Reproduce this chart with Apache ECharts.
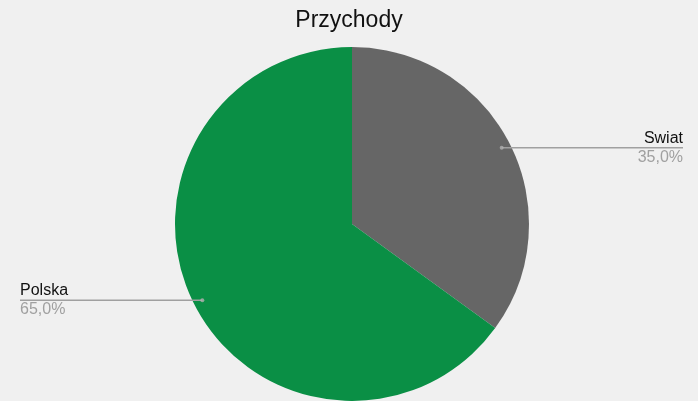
<!DOCTYPE html>
<html>
<head>
<meta charset="utf-8">
<script src="https://cdn.jsdelivr.net/npm/echarts@6/dist/echarts.min.js"></script>
<style>
html,body{margin:0;padding:0;background:#f0f0f0;}
#chart{width:698px;height:401px;}
</style>
</head>
<body>
<div id="chart"></div>
<script>
const titleText = 'Przychody';
const categories = ['Swiat', 'Polska'];
const values = [35, 65];
const colors = ['#666666', '#0a8f45'];

const chart = echarts.init(document.getElementById('chart'));
const data = categories.map((c, i) => ({ name: c, value: values[i], itemStyle: { color: colors[i] } }));
const ghost = categories.map((c, i) => ({ name: c, value: values[i] }));
const total = values.reduce((a, b) => a + b, 0);
let acc = 0;
const dots = values.map(v => { const mid = acc + v / 2; acc += v; return [1, mid / total * 100]; });

chart.setOption({
  backgroundColor: '#f0f0f0',
  animation: false,
  title: {
    text: titleText,
    left: 'center',
    top: 4,
    textStyle: { fontFamily: 'Liberation Sans', fontSize: 23, fontWeight: 'normal', color: '#111' }
  },
  polar: { center: [352, 224], radius: 168 },
  angleAxis: { type: 'value', min: 0, max: 100, startAngle: 90, clockwise: true, show: false },
  radiusAxis: { type: 'value', min: 0, max: 1, show: false },
  series: [
    {
      type: 'pie',
      z: 1,
      center: [352, 224],
      radius: 177,
      startAngle: 90,
      clockwise: true,
      silent: true,
      label: { show: false },
      labelLine: { show: false },
      data: data
    },
    {
      type: 'pie',
      z: 5,
      center: [352, 224],
      radius: 168,
      startAngle: 90,
      clockwise: true,
      silent: true,
      itemStyle: { color: 'rgba(0,0,0,0)' },
      label: {
        show: true,
        alignTo: 'edge',
        edgeDistance: 18,
        formatter: function (p) {
          return '{n|' + p.name + '}\n{p|' + p.percent.toFixed(1).replace('.', ',') + '%}';
        },
        rich: {
          n: { fontFamily: 'Liberation Sans', fontSize: 16, color: '#111', lineHeight: 19 },
          p: { fontFamily: 'Liberation Sans', fontSize: 16, color: '#a0a0a0', lineHeight: 19 }
        }
      },
      labelLine: { show: true, length: 0, length2: 10, lineStyle: { color: '#a0a0a0', width: 1.5 } },
      labelLayout: function (params) {
        const W = chart.getWidth();
        const isLeft = params.labelRect.x < W / 2;
        const points = params.labelLinePoints;
        const x = isLeft ? 20 : 683;
        points[2][0] = x;
        return { x: x, align: isLeft ? 'left' : 'right', labelLinePoints: points };
      },
      data: ghost
    },
    {
      type: 'scatter',
      coordinateSystem: 'polar',
      z: 6,
      silent: true,
      symbolSize: 4,
      itemStyle: { color: '#b0b0b0' },
      data: dots
    }
  ]
});
</script>
</body>
</html>
